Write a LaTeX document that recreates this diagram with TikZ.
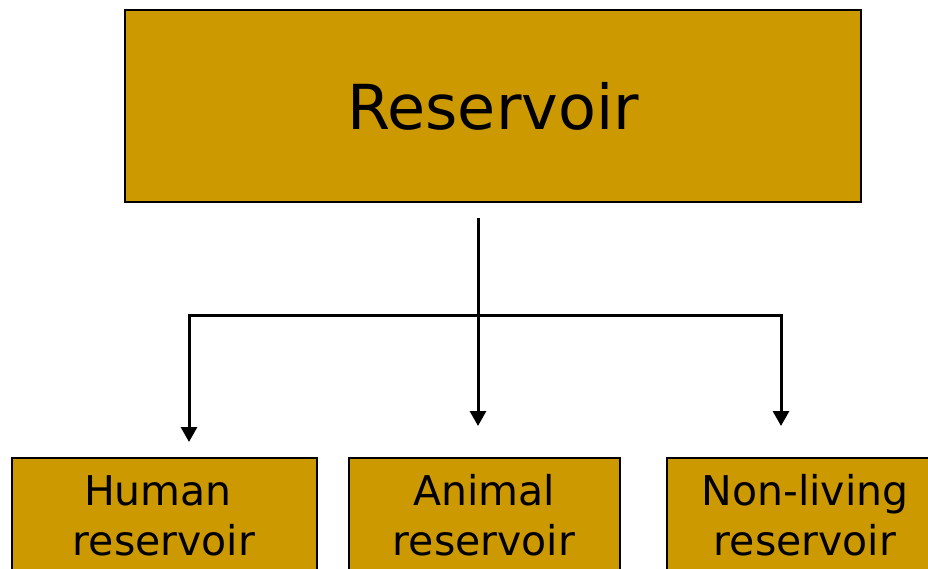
\documentclass[tikz,border=0pt]{standalone}
\usepackage{fontspec}
\setmainfont{DejaVu Sans}
\usetikzlibrary{arrows.meta}
\definecolor{boxgold}{HTML}{CC9900}
\tikzset{
  goldbox/.style={draw=black, line width=2.6pt, fill=boxgold},
  link/.style={draw=black, line width=3pt},
  arr/.style={link, -{Triangle[width=16pt,length=15pt]}},
  lbl/.style={inner sep=0pt, align=center, font=\fontsize{41}{50}\selectfont}
}
\begin{document}
\begin{tikzpicture}[x=1pt,y=-1pt]
  \useasboundingbox (0,0) rectangle (928,568);
  \clip (0,0) rectangle (928,568);

  % boxes
  \path[goldbox] (125,10) rectangle (861,202);
  \node[inner sep=0pt, font=\fontsize{62}{70}\selectfont] (res) at (493,106) {Reservoir};
  \coordinate (top) at (478,218);

  \path[goldbox] (12,458) rectangle (317,590);
  \path[goldbox] (349,458) rectangle (620,590);
  \path[goldbox] (667,458) rectangle (940,590);

  \node[lbl, anchor=base] (hum1) at (158,505) {Human};
  \node[lbl, anchor=base] (hum2) at (164,555) {reservoir};
  \node[lbl, anchor=base] (ani1) at (484,505) {Animal};
  \node[lbl, anchor=base] (ani2) at (484,555) {reservoir};
  \node[lbl, anchor=base] (non1) at (805,505) {Non-living};
  \node[lbl, anchor=base] (non2) at (805,555) {reservoir};

  % connectors
  \coordinate (hl) at (189,315);
  \coordinate (hr) at (781,315);
  \coordinate (tipH) at (189,442);
  \coordinate (tipA) at (478,426);
  \coordinate (tipN) at (781,426);

  \draw[arr] (top) -- (tipA);
  \draw[link, line cap=rect] (hl) -- (hr);
  \draw[arr] (hl) -- (tipH);
  \draw[arr] (hr) -- (tipN);
\end{tikzpicture}
\end{document}
